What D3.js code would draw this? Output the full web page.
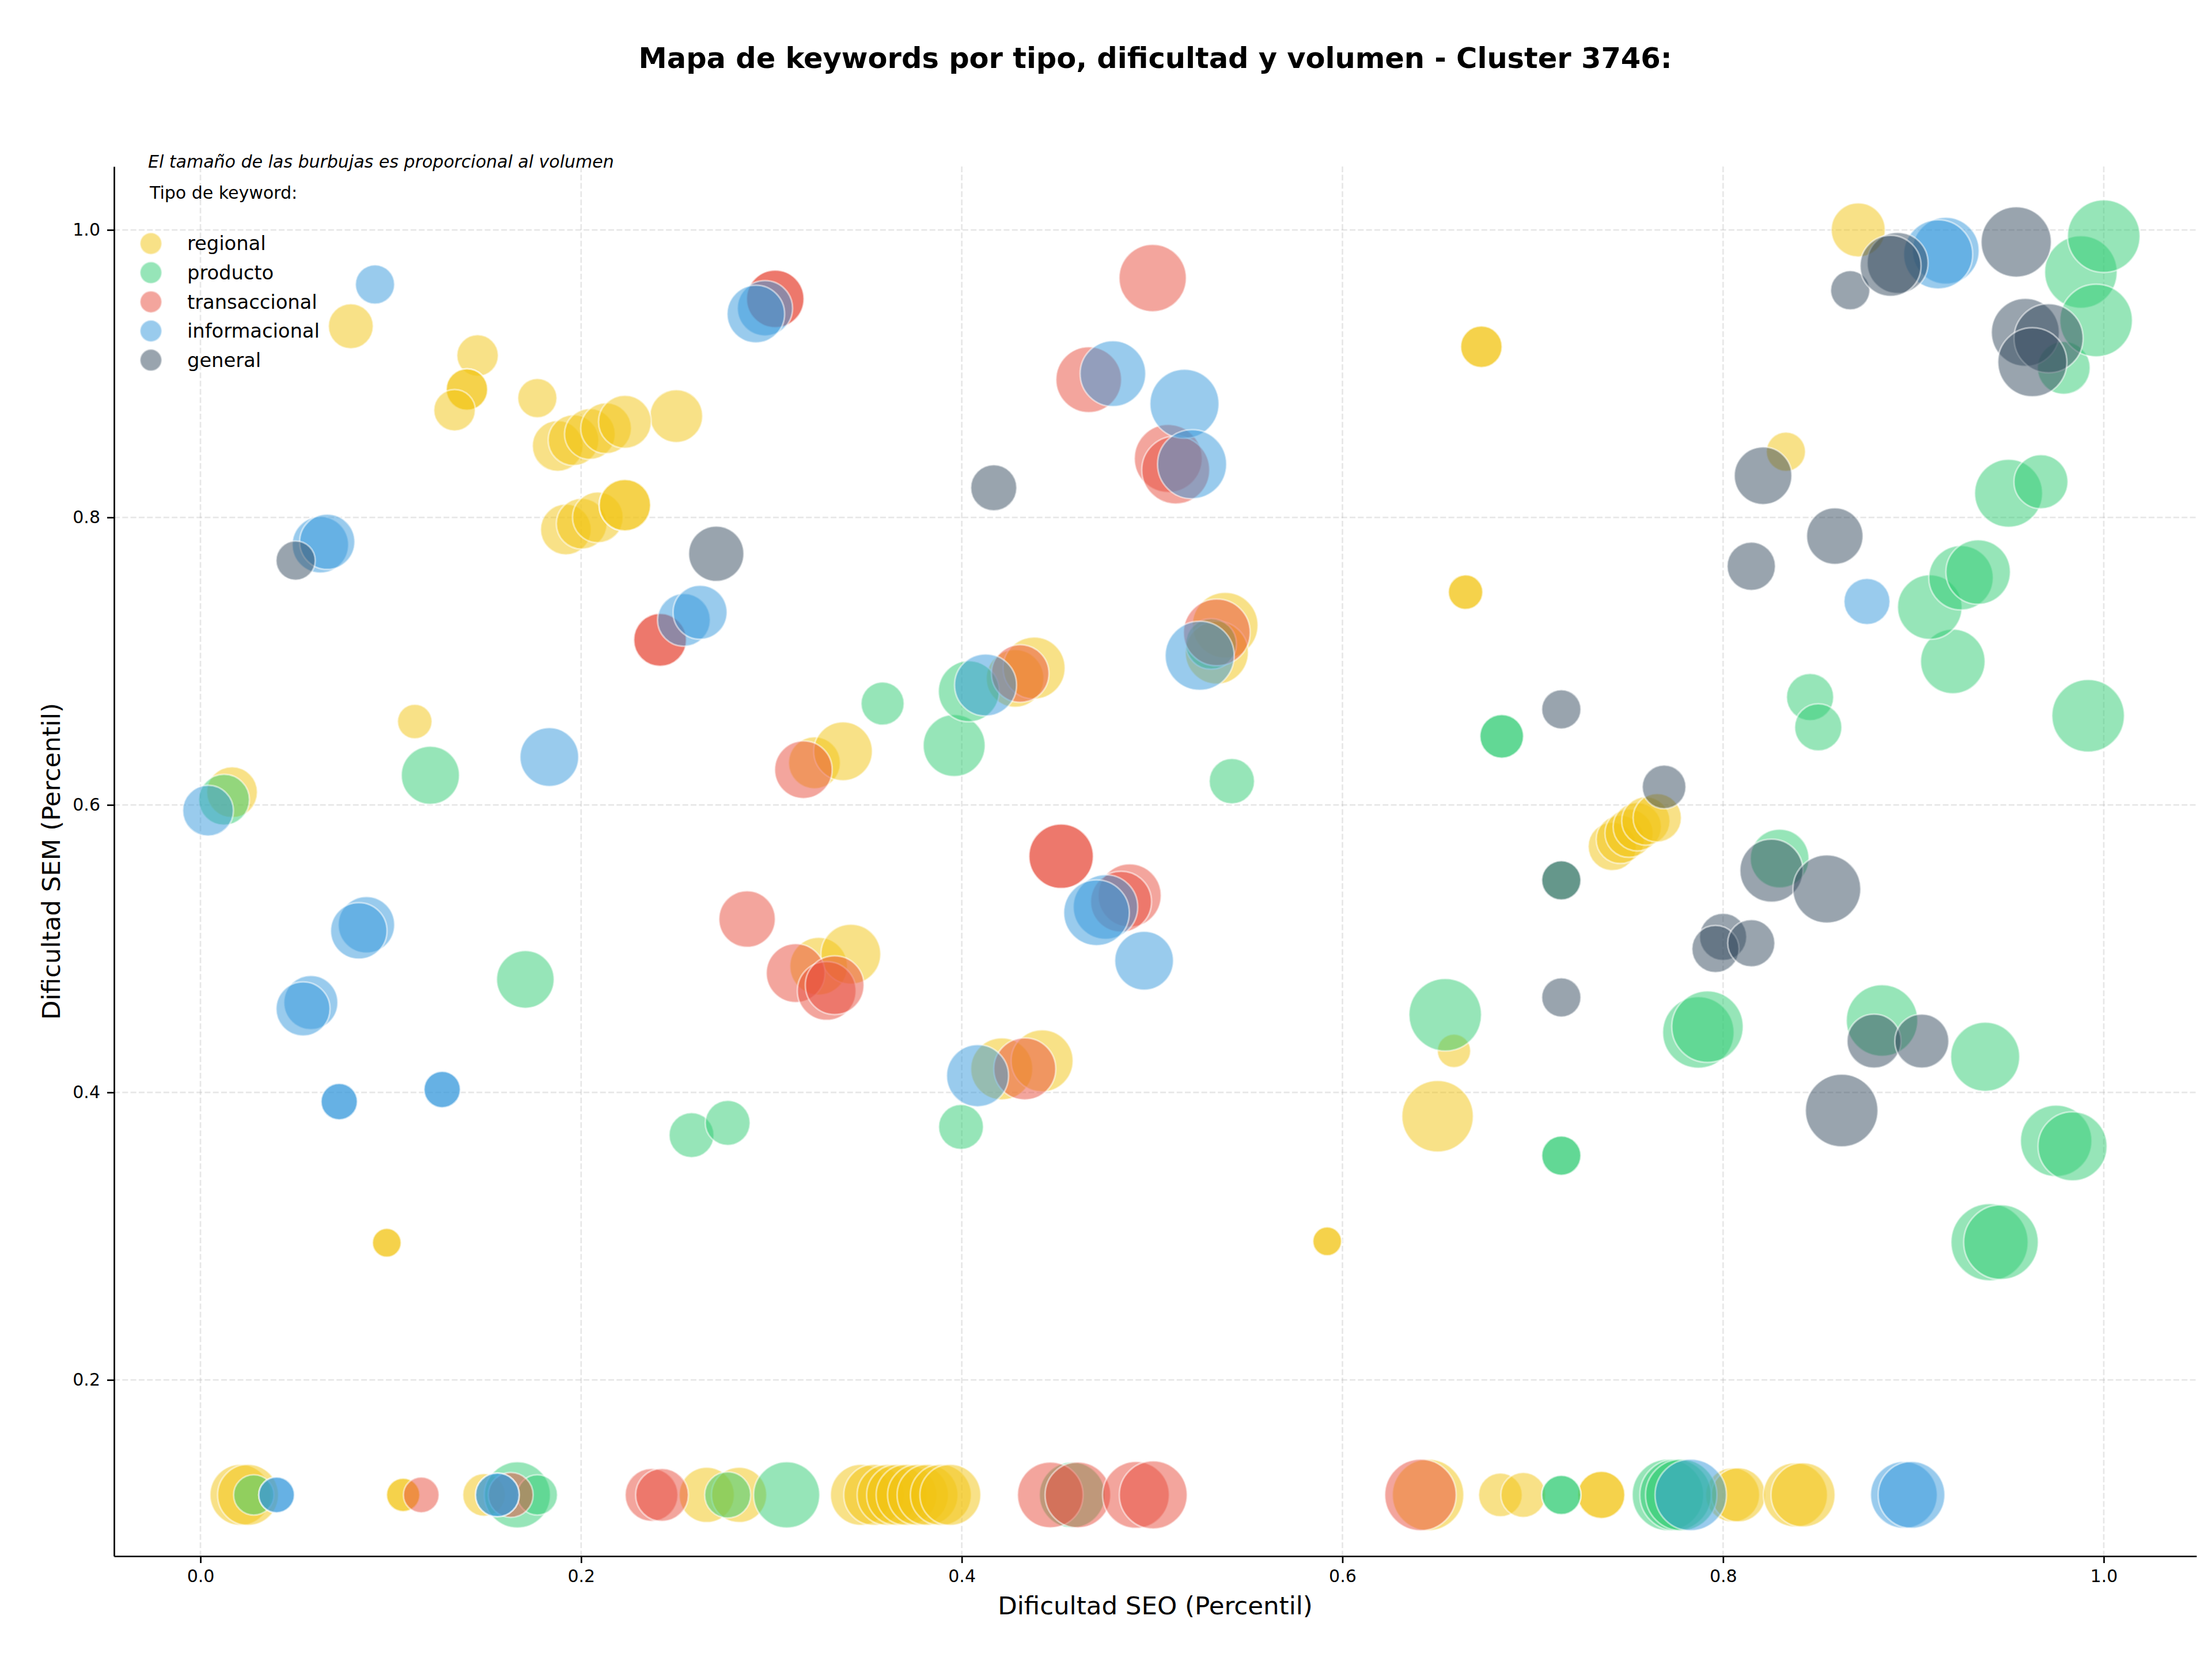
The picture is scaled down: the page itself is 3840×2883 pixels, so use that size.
<!doctype html>
<html>
<head>
<meta charset="UTF-8">
<title>Mapa de keywords</title>
<script src="https://cdn.jsdelivr.net/npm/d3@7"></script>
<style>
  body { margin: 0; background: #fff; }
  text { font-family: "DejaVu Sans", sans-serif; }
</style>
</head>
<body>
<div id="chart"></div>
<script>
// [dificultad SEO, dificultad SEM, volumen]
var regional = [
  [0.079, 0.933, 1520], [0.1456, 0.9126, 1300], [0.140, 0.889, 1300], [0.140, 0.889, 1300],
  [0.1335, 0.8746, 1300], [0.177, 0.883, 1160], [0.250, 0.8705, 2100],
  [0.1877, 0.8497, 1940], [0.196, 0.8537, 1940], [0.2046, 0.858, 1940], [0.2131, 0.862, 1940], [0.223, 0.8665, 2100],
  [0.192, 0.7916, 1940], [0.2003, 0.7956, 1940], [0.2088, 0.800, 1940], [0.223, 0.8085, 2000], [0.223, 0.8085, 2000],
  [0.1126, 0.658, 900], [0.0166, 0.6088, 1940], [0.0979, 0.2954, 625], [0.0979, 0.2954, 625],
  [0.3226, 0.6293, 2025], [0.3376, 0.6373, 2600], [0.3248, 0.4878, 2500], [0.3417, 0.4962, 2700],
  [0.428, 0.688, 2500], [0.438, 0.6952, 2900], [0.5384, 0.725, 3250], [0.534, 0.706, 3000],
  [0.421, 0.4164, 2900], [0.4422, 0.422, 2900],
  [0.6647, 0.748, 900], [0.6647, 0.748, 900], [0.673, 0.9187, 1300], [0.673, 0.9187, 1300],
  [0.833, 0.8457, 1160], [0.871, 1.0, 2200], [0.592, 0.2964, 625], [0.592, 0.2964, 625],
  [0.6586, 0.4289, 840], [0.650, 0.3834, 3850],
  [0.7418, 0.5711, 1760], [0.746, 0.576, 1760], [0.7506, 0.5803, 1760], [0.7549, 0.5848, 1760],
  [0.7594, 0.5888, 1760], [0.7654, 0.591, 1760],
  [0.021, 0.12, 2800], [0.025, 0.12, 2800], [0.1065, 0.12, 840], [0.1065, 0.12, 840], [0.149, 0.12, 1370],
  [0.266, 0.12, 2300], [0.283, 0.12, 2300],
  [0.347, 0.12, 2800], [0.354, 0.12, 2800], [0.361, 0.12, 2800], [0.366, 0.12, 2800], [0.371, 0.12, 2800],
  [0.377, 0.12, 2800], [0.382, 0.12, 2800], [0.389, 0.12, 2800], [0.394, 0.12, 2800],
  [0.645, 0.12, 3850], [0.683, 0.12, 1440], [0.695, 0.12, 1520], [0.736, 0.12, 1680], [0.736, 0.12, 1680],
  [0.805, 0.12, 2200], [0.808, 0.12, 2200], [0.838, 0.12, 3100], [0.842, 0.12, 3100]
];

var producto = [
  [0.0124, 0.6036, 1940], [0.1208, 0.6206, 2550], [0.1707, 0.4786, 2500], [0.258, 0.3703, 1520],
  [0.277, 0.3788, 1520], [0.3584, 0.6705, 1400], [0.396, 0.6413, 2900], [0.4037, 0.679, 2800],
  [0.3996, 0.376, 1520], [0.531, 0.712, 1940], [0.5419, 0.6165, 1550],
  [0.6837, 0.6477, 1440], [0.6837, 0.6477, 1440], [0.715, 0.5475, 1160], [0.715, 0.356, 1160], [0.715, 0.356, 1160],
  [0.654, 0.454, 3970], [0.8297, 0.5627, 2600], [0.787, 0.4417, 3850], [0.7918, 0.4457, 3850],
  [0.8835, 0.450, 3850], [0.9377, 0.4248, 3600], [0.975, 0.3663, 3850], [0.9836, 0.3625, 3600],
  [0.940, 0.2958, 4490], [0.946, 0.2958, 4200], [0.9918, 0.662, 3970], [0.9207, 0.6998, 3140],
  [0.9086, 0.7376, 3140], [0.925, 0.758, 3140], [0.934, 0.762, 3140],
  [0.8457, 0.675, 1680], [0.850, 0.654, 1680], [0.950, 0.8168, 3480], [0.967, 0.8248, 2200],
  [0.979, 0.904, 2100], [0.988, 0.9707, 3970], [1.0, 0.9956, 3970], [0.996, 0.937, 3970],
  [0.028, 0.12, 1225], [0.1665, 0.12, 3300], [0.177, 0.12, 1225], [0.277, 0.12, 1600],
  [0.308, 0.12, 3300], [0.458, 0.12, 3250], [0.715, 0.12, 1160], [0.715, 0.12, 1160],
  [0.771, 0.12, 3850], [0.775, 0.12, 3850], [0.778, 0.12, 3850]
];

var transaccional = [
  [0.302, 0.952, 2500], [0.302, 0.952, 2500], [0.5003, 0.9665, 3420], [0.4667, 0.8958, 3250],
  [0.5085, 0.841, 3480], [0.5124, 0.833, 3480], [0.2415, 0.7148, 2100], [0.2415, 0.7148, 2100],
  [0.3168, 0.6245, 2500], [0.2872, 0.5206, 2400], [0.3127, 0.483, 2600], [0.329, 0.4706, 2600],
  [0.3332, 0.4746, 2600], [0.4307, 0.6914, 2500], [0.4331, 0.4164, 2900],
  [0.4522, 0.5643, 3140], [0.4522, 0.5643, 3140], [0.4882, 0.537, 3000], [0.4837, 0.5327, 2800],
  [0.534, 0.72, 3360],
  [0.116, 0.12, 960], [0.163, 0.12, 1520], [0.237, 0.12, 2100], [0.2425, 0.12, 2100],
  [0.4465, 0.12, 3250], [0.461, 0.12, 3250], [0.4915, 0.12, 3360], [0.5006, 0.12, 3480],
  [0.641, 0.12, 3850]
];

var informacional = [
  [0.0917, 0.962, 1160], [0.2966, 0.9455, 2300], [0.2918, 0.9415, 2500], [0.4794, 0.900, 3250],
  [0.517, 0.879, 3600], [0.521, 0.837, 3600], [0.063, 0.781, 2400], [0.0666, 0.783, 2300],
  [0.254, 0.7287, 2100], [0.2625, 0.734, 2200], [0.1833, 0.6333, 2600], [0.004, 0.596, 1940],
  [0.0872, 0.5166, 2400], [0.0832, 0.5124, 2400], [0.058, 0.4625, 2200], [0.0539, 0.4581, 2200],
  [0.0729, 0.3936, 1000], [0.0729, 0.3936, 1000], [0.127, 0.402, 1000], [0.127, 0.402, 1000],
  [0.4083, 0.4116, 2900], [0.4125, 0.6834, 2900], [0.4755, 0.529, 3140], [0.4708, 0.525, 3250],
  [0.4958, 0.4916, 2600], [0.525, 0.7038, 3600], [0.8756, 0.7415, 1600],
  [0.917, 0.9855, 3360], [0.913, 0.983, 3600],
  [0.040, 0.12, 960], [0.040, 0.12, 960], [0.156, 0.12, 1440], [0.156, 0.12, 1440],
  [0.783, 0.12, 3850], [0.895, 0.12, 3360], [0.899, 0.12, 3360]
];

var general = [
  [0.050, 0.770, 1160], [0.271, 0.7747, 2300], [0.4168, 0.8206, 1600], [0.715, 0.6665, 1160],
  [0.769, 0.6125, 1440], [0.715, 0.5475, 1160], [0.715, 0.4661, 1160], [0.8254, 0.5543, 3000],
  [0.8545, 0.5415, 3480], [0.800, 0.5082, 1680], [0.796, 0.4998, 1680], [0.8148, 0.5038, 1680],
  [0.8793, 0.4357, 2200], [0.9044, 0.4357, 2200], [0.8623, 0.3874, 3970], [0.8148, 0.766, 1760],
  [0.821, 0.829, 2500], [0.8587, 0.787, 2400], [0.8668, 0.958, 1160], [0.8917, 0.977, 2800],
  [0.888, 0.975, 2800], [0.954, 0.9916, 3720], [0.9588, 0.9287, 3480], [0.971, 0.9246, 3600],
  [0.9625, 0.908, 3600]
];

var tipos = ["regional", "producto", "transaccional", "informacional", "general"];
var series = [regional, producto, transaccional, informacional, general];
var colores = ["#f1c40f", "#2ecc71", "#e74c3c", "#3498db", "#34495e"];
var xTicks = [0, 0.2, 0.4, 0.6, 0.8, 1.0];
var yTicks = [0.2, 0.4, 0.6, 0.8, 1.0];

var W = 3840, H = 2883;
var pL = 198, pR = 3813, pT = 289, pB = 2701;

var svg = d3.select("#chart").append("svg")
    .attr("width", W).attr("height", H);

var x = d3.scaleLinear().domain([-0.0454, 1.0487]).range([pL, pR]);
var y = d3.scaleLinear().domain([0.0774, 1.0441]).range([pB, pT]);
var r = d3.scaleSqrt().domain([0, 4500]).range([0, 67]);

// grid
svg.append("g").selectAll("line").data(xTicks).enter().append("line")
    .attr("x1", d => x(d)).attr("x2", d => x(d))
    .attr("y1", pT).attr("y2", pB)
    .attr("stroke", "#b0b0b0").attr("stroke-opacity", 0.3)
    .attr("stroke-width", 2.7).attr("stroke-dasharray", "10,4.3");
svg.append("g").selectAll("line").data(yTicks).enter().append("line")
    .attr("x1", pL).attr("x2", pR)
    .attr("y1", d => y(d)).attr("y2", d => y(d))
    .attr("stroke", "#b0b0b0").attr("stroke-opacity", 0.3)
    .attr("stroke-width", 2.7).attr("stroke-dasharray", "10,4.3");

// bubbles
series.forEach(function(s, i) {
  svg.append("g").selectAll("circle").data(s).enter().append("circle")
      .attr("cx", d => x(d[0]))
      .attr("cy", d => y(d[1]))
      .attr("r", d => r(d[2]))
      .attr("fill", colores[i]).attr("fill-opacity", 0.5)
      .attr("stroke", "#fff").attr("stroke-opacity", 0.5).attr("stroke-width", 3);
});

// axes
var fmt = d3.format(".1f");
var gx = svg.append("g").attr("transform", "translate(0," + pB + ")")
    .call(d3.axisBottom(x).tickValues(xTicks).tickFormat(fmt).tickSize(12).tickSizeOuter(0).tickPadding(12));
var gy = svg.append("g").attr("transform", "translate(" + pL + ",0)")
    .call(d3.axisLeft(y).tickValues(yTicks).tickFormat(fmt).tickSize(12).tickSizeOuter(0).tickPadding(12));
[gx, gy].forEach(function(g) {
  g.select(".domain").attr("stroke", "#000").attr("stroke-width", 2.7);
  g.selectAll(".tick line").attr("stroke", "#000").attr("stroke-width", 2.7);
  g.selectAll(".tick text").attr("font-size", 30).attr("fill", "#000")
      .attr("font-family", "DejaVu Sans");
});

// titles
svg.append("text").attr("x", (pL + pR) / 2).attr("y", 118)
    .attr("text-anchor", "middle").attr("font-size", 49.5).attr("font-weight", "bold")
    .text("Mapa de keywords por tipo, dificultad y volumen - Cluster 3746:");
svg.append("text").attr("x", (pL + pR) / 2).attr("y", 2802)
    .attr("text-anchor", "middle").attr("font-size", 43.5)
    .text("Dificultad SEO (Percentil)");
svg.append("text").attr("transform", "translate(104," + (pT + pB) / 2 + ") rotate(-90)")
    .attr("text-anchor", "middle").attr("font-size", 43.5)
    .text("Dificultad SEM (Percentil)");

svg.append("text").attr("x", 257).attr("y", 291)
    .attr("font-size", 30).attr("font-style", "italic")
    .text("El tamaño de las burbujas es proporcional al volumen");

// legend
svg.append("text").attr("x", 260).attr("y", 345)
    .attr("font-size", 30).text("Tipo de keyword:");
var leg = svg.append("g").selectAll("g").data(tipos).enter().append("g")
    .attr("transform", (d, i) => "translate(262," + (422.7 + i * 50.6) + ")");
leg.append("circle").attr("r", 19)
    .attr("fill", (d, i) => colores[i]).attr("fill-opacity", 0.5)
    .attr("stroke", "#fff").attr("stroke-opacity", 0.5).attr("stroke-width", 3);
leg.append("text").attr("x", 63).attr("dy", "0.35em")
    .attr("font-size", 33.7).text(d => d);
</script>
</body>
</html>
